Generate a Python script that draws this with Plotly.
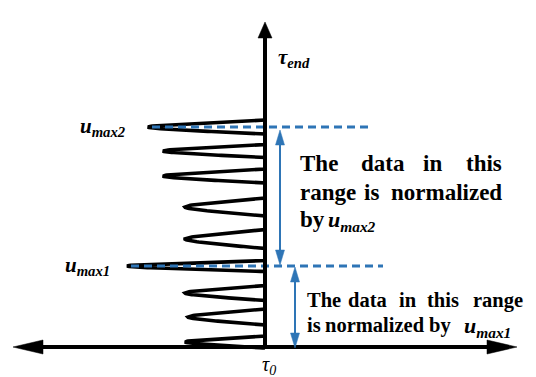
import numpy as np
import plotly.graph_objects as go

# Pulse train along the time axis: peak amplitude (drawn leftwards), centre time, half-width at the axis
amplitude = [117, 102, 102, 80, 80, 138, 80, 77, 80]
center_tau = [220, 196, 171, 140, 108, 81, 54, 30, 5]
half_width = [7, 6.5, 7, 9, 9.5, 5.5, 7.5, 8, 6]

# Pulses that define the normalisation levels
max_index = [0, 5]
max_names = ["max2", "max1"]
dash_end = [108, 118]

# Axis extents (same units as the data)
X_LEFT, X_RIGHT, TAU_TOP = -252, 252, 325

BLACK = "#000000"
BLUE = "#2E75B6"
SERIF = "Liberation Serif"


def pulse(a, c, hw, n=80, r=0.35):
    # hairpin-shaped pulse: rounded tip, nearly straight flanks
    s = np.linspace(1, -1, n)
    g = (np.sqrt(s ** 2 + r ** 2) - r) / (np.sqrt(1 + r ** 2) - r)
    return -a * (1 - g), c + s * hw


xs, ys = [], []
for a, c, hw in zip(amplitude, center_tau, half_width):
    px, py = pulse(a, c, hw)
    xs.extend([0.0] + list(px) + [0.0])
    ys.extend([c + hw] + list(py) + [c - hw])

fig = go.Figure()
fig.add_trace(go.Scatter(x=xs, y=ys, mode="lines",
                         line=dict(color=BLACK, width=3.6), hoverinfo="skip"))

# dashed normalisation levels
for i, xe in zip(max_index, dash_end):
    fig.add_trace(go.Scatter(x=[-amplitude[i] + 4, xe], y=[center_tau[i]] * 2, mode="lines",
                             line=dict(color=BLUE, width=3, dash="8px,5px"), hoverinfo="skip"))

shapes = []


def tri(tip, base_c, half, vertical, color):
    if vertical:
        path = f"M {tip[0]},{tip[1]} L {base_c[0]-half},{base_c[1]} L {base_c[0]+half},{base_c[1]} Z"
    else:
        path = f"M {tip[0]},{tip[1]} L {base_c[0]},{base_c[1]-half} L {base_c[0]},{base_c[1]+half} Z"
    return dict(type="path", path=path, xref="x", yref="y", fillcolor=color,
                line=dict(color=color, width=0.5), layer="above")


# axes with arrowheads
shapes.append(dict(type="line", x0=X_LEFT + 28, x1=X_RIGHT - 28, y0=0, y1=0, xref="x", yref="y",
                   line=dict(color=BLACK, width=4), layer="above"))
shapes.append(tri((X_LEFT, 0), (X_LEFT + 30, 0), 7, False, BLACK))
shapes.append(tri((X_RIGHT, 0), (X_RIGHT - 30, 0), 7, False, BLACK))
shapes.append(dict(type="line", x0=0, x1=0, y0=0, y1=TAU_TOP - 14, xref="x", yref="y",
                   line=dict(color=BLACK, width=4), layer="above"))
shapes.append(tri((0, TAU_TOP), (0, TAU_TOP - 16), 7, True, BLACK))

# blue double arrows spanning each normalisation range
spans = [(15, center_tau[max_index[0]] - 3, center_tau[max_index[1]] + 1),
         (30, center_tau[max_index[1]] - 1, -1)]
for x, top, bot in spans:
    shapes.append(dict(type="line", x0=x, x1=x, y0=bot + 12, y1=top - 12, xref="x", yref="y",
                       line=dict(color=BLUE, width=2), layer="above"))
    shapes.append(tri((x, top), (x, top - 15), 4.5, True, BLUE))
    shapes.append(tri((x, bot), (x, bot + 15), 4.5, True, BLUE))

ann = []


def text(x, y, s, size, anchor="left", color=BLACK):
    ann.append(dict(x=x, y=y, xref="x", yref="y", text=s, showarrow=False,
                    xanchor=anchor, yanchor="middle", borderpad=0,
                    font=dict(family=SERIF, size=size, color=color)))


def u_label(name):
    return f"<b><i>u</i></b><sub><b><i>{name}</i></b></sub>"


# level labels
text(-amplitude[max_index[0]] - 22, center_tau[max_index[0]], u_label(max_names[0]), 21, "right")
text(-amplitude[max_index[1]] - 16, center_tau[max_index[1]], u_label(max_names[1]), 21, "right")

# axis labels
text(12, 289, "<b><i>τ</i></b><sub><b><i>end</i></b></sub>", 21)
text(-4, -18, "<i>τ</i><sub><i>0</i></sub>", 20)

# upper range note (justified)
block1 = [(184, [("The", 34, "left"), ("data", 95, "left"), ("in", 157, "left"), ("this", 238, "right")]),
          (155, [("range", 34, "left"), ("is", 98, "left"), ("normalized", 238, "right")]),
          (128, [("by", 34, "left")])]
for tau, words in block1:
    for w, x, anc in words:
        text(x, tau, f"<b>{w}</b>", 23, anc)
text(62, 126, u_label(max_names[0]), 22)

# lower range note
block2 = [(47, [("The", 41, "left"), ("data", 82, "left"), ("in", 133, "left"),
                ("this", 161, "left"), ("range", 207, "left")]),
          (22, [("is", 41, "left"), ("normalized", 59, "left"), ("by", 163, "left")])]
for tau, words in block2:
    for w, x, anc in words:
        text(x, tau, f"<b>{w}</b>", 20.5, anc)
text(198, 20, u_label(max_names[1]), 22)

fig.update_layout(
    width=536, height=377, autosize=False,
    margin=dict(l=0, r=0, t=0, b=0),
    paper_bgcolor="white", plot_bgcolor="white",
    showlegend=False,
    xaxis=dict(range=[-265, 271], visible=False, fixedrange=True),
    yaxis=dict(range=[-30, 347], visible=False, fixedrange=True),
    shapes=shapes, annotations=ann,
)

fig.write_html("out.html")
